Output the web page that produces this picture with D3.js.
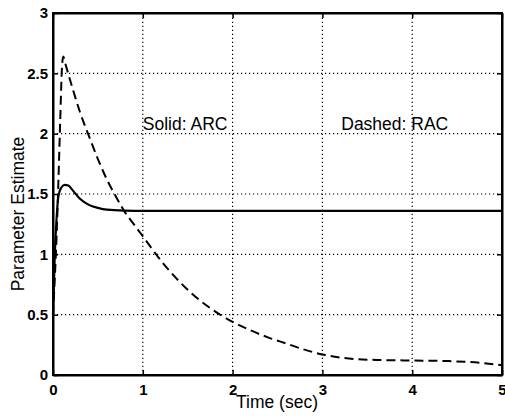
<!DOCTYPE html>
<html>
<head>
<meta charset="utf-8">
<script src="https://cdn.jsdelivr.net/npm/d3@7"></script>
<style>
  body { margin: 0; background: #fff; }
  text { font-family: "Liberation Sans", Arial, sans-serif; }
</style>
</head>
<body>
<script>
// values
var arcTime  = [0, 0.02, 0.04, 0.06, 0.09, 0.13, 0.17, 0.22, 0.3, 0.4, 0.5, 0.6, 0.8, 1, 2, 3, 4, 5];
var arcValue = [0.5, 1.0, 1.3, 1.48, 1.55, 1.575, 1.57, 1.53, 1.46, 1.41, 1.385, 1.37, 1.362, 1.36, 1.36, 1.36, 1.36, 1.36];

var racTime  = [0, 0.02, 0.04, 0.06, 0.08, 0.1, 0.115, 0.13, 0.2, 0.3, 0.4, 0.5, 0.6, 0.7, 0.8, 0.9, 1.0, 1.2, 1.4, 1.6, 1.8, 2.0, 2.2, 2.4, 2.6, 2.8, 3.0, 3.2, 3.4, 3.6, 4.0, 4.4, 4.7, 5.0];
var racValue = [0.5, 0.8, 1.15, 1.6, 2.1, 2.55, 2.64, 2.6, 2.42, 2.18, 1.98, 1.79, 1.62, 1.48, 1.35, 1.25, 1.15, 0.95, 0.78, 0.64, 0.53, 0.44, 0.37, 0.31, 0.26, 0.21, 0.17, 0.145, 0.13, 0.125, 0.12, 0.115, 0.105, 0.08];

var xTicks = [0, 1, 2, 3, 4, 5];
var yTicks = [0, 0.5, 1, 1.5, 2, 2.5, 3];

var labels = [{text: "Solid: ARC", t: 1.0, v: 2.03}, {text: "Dashed: RAC", t: 3.21, v: 2.03}];

var W = 505, H = 416;
var margin = {top: 13, right: 3, bottom: 41, left: 53};

var svg = d3.select("body").append("svg")
    .attr("width", W)
    .attr("height", H);

var x = d3.scaleLinear().domain([0, 5]).range([margin.left, W - margin.right]);
var y = d3.scaleLinear().domain([0, 3]).range([H - margin.bottom, margin.top]);

// dotted grid
svg.append("g").selectAll("line.gx")
    .data(xTicks.slice(1, -1))
    .enter().append("line")
    .attr("x1", d => x(d)).attr("x2", d => x(d))
    .attr("y1", y(0)).attr("y2", y(3))
    .attr("stroke", "#000").attr("stroke-width", 1.2)
    .attr("stroke-dasharray", "1.2,2.8");

svg.append("g").selectAll("line.gy")
    .data(yTicks.slice(1, -1))
    .enter().append("line")
    .attr("x1", x(0)).attr("x2", x(5))
    .attr("y1", d => y(d)).attr("y2", d => y(d))
    .attr("stroke", "#000").attr("stroke-width", 1.2)
    .attr("stroke-dasharray", "1.2,2.8");

// axes, ticks pointing inward like matlab
var fmt = d => String(d);
var xAxis = d3.axisBottom(x).tickValues(xTicks).tickFormat(fmt).tickSizeInner(-5).tickSizeOuter(0).tickPadding(9);
var yAxis = d3.axisLeft(y).tickValues(yTicks).tickFormat(fmt).tickSizeInner(-5).tickSizeOuter(0).tickPadding(5);

var gx = svg.append("g").attr("transform", "translate(0," + y(0) + ")").call(xAxis);
var gy = svg.append("g").attr("transform", "translate(" + x(0) + ",0)").call(yAxis);
svg.append("g").attr("transform", "translate(0," + y(3) + ")")
    .call(d3.axisTop(x).tickValues(xTicks).tickSizeInner(-5).tickSizeOuter(0).tickFormat(""));
svg.append("g").attr("transform", "translate(" + x(5) + ",0)")
    .call(d3.axisRight(y).tickValues(yTicks).tickSizeInner(-5).tickSizeOuter(0).tickFormat(""));

svg.selectAll(".domain").attr("stroke", "#000").attr("stroke-width", 2);
svg.selectAll(".tick line").attr("stroke", "#000").attr("stroke-width", 1.5);
[gx, gy].forEach(g => g.selectAll("text")
    .attr("font-size", 15).attr("font-weight", "bold")
    .attr("font-family", "Liberation Sans, Arial, sans-serif").attr("fill", "#000"));

// outer box
svg.append("rect")
    .attr("x", x(0)).attr("y", y(3))
    .attr("width", x(5) - x(0)).attr("height", y(0) - y(3))
    .attr("fill", "none").attr("stroke", "#000").attr("stroke-width", 2);

var line = d3.line()
    .x(d => x(d[0]))
    .y(d => y(d[1]))
    .curve(d3.curveMonotoneX);

svg.append("path")
    .datum(racTime.map((t, i) => [t, racValue[i]]))
    .attr("d", line)
    .attr("fill", "none").attr("stroke", "#000").attr("stroke-width", 2)
    .attr("stroke-dasharray", "9,5");

svg.append("path")
    .datum(arcTime.map((t, i) => [t, arcValue[i]]))
    .attr("d", line)
    .attr("fill", "none").attr("stroke", "#000").attr("stroke-width", 2.2);

svg.selectAll("text.lbl")
    .data(labels)
    .enter().append("text")
    .attr("x", d => x(d.t))
    .attr("y", d => y(d.v))
    .attr("font-size", 17.5)
    .text(d => d.text);

svg.append("text")
    .attr("x", 277)
    .attr("y", 408)
    .attr("text-anchor", "middle")
    .attr("font-size", 17.5)
    .text("Time (sec)");

svg.append("text")
    .attr("transform", "translate(24," + ((y(0) + y(3)) / 2 + 20) + ") rotate(-90)")
    .attr("text-anchor", "middle")
    .attr("font-size", 17.5)
    .text("Parameter Estimate");
</script>
</body>
</html>
